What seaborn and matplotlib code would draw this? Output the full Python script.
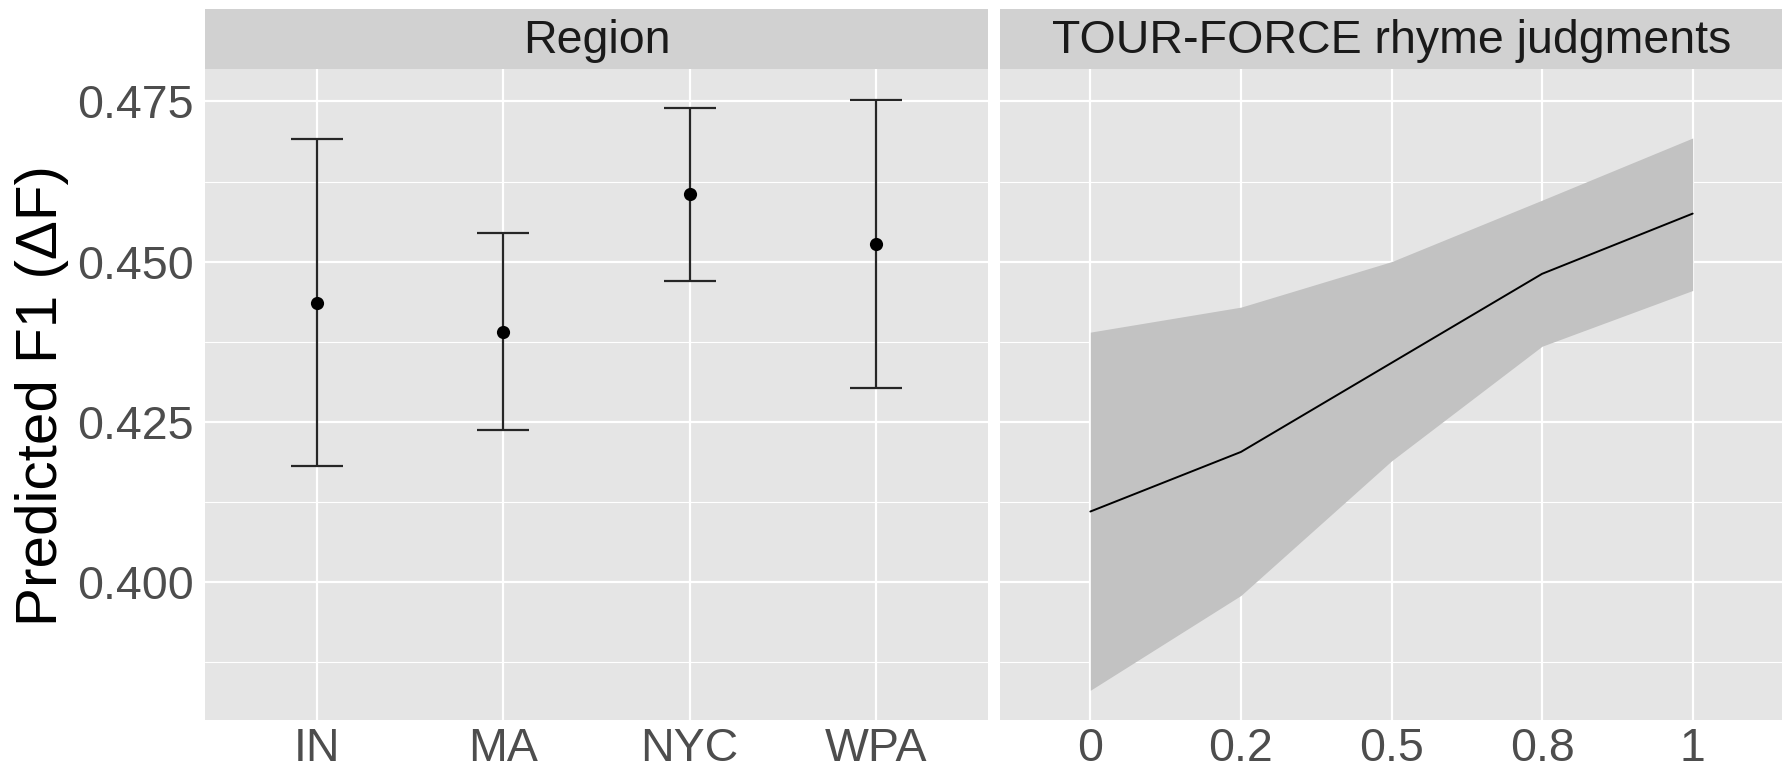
import matplotlib
matplotlib.use("Agg")
import matplotlib.pyplot as plt
import seaborn as sns
import numpy as np
import pandas as pd

# ---- data ----
regions = ["IN", "MA", "NYC", "WPA"]
region_fit = [0.4436, 0.4390, 0.4605, 0.4528]
region_lo = [0.4181, 0.4237, 0.4470, 0.4303]
region_hi = [0.4691, 0.4544, 0.4740, 0.4753]

tf_labels = ["0", "0.2", "0.5", "0.8", "1"]
tf_fit = [0.4110, 0.4203, 0.4342, 0.4481, 0.4575]
tf_lo = [0.3831, 0.3979, 0.4189, 0.4368, 0.4455]
tf_hi = [0.4390, 0.4429, 0.4500, 0.4596, 0.4693]

y_ticks = [0.400, 0.425, 0.450, 0.475]
y_label = "Predicted F1 (ΔF)"
strip_titles = ["Region", "TOUR-FORCE rhyme judgments"]

# ---- style ----
sns.set_theme(style="darkgrid")
plt.rcParams["font.family"] = ["Liberation Sans", "DejaVu Sans"]

PANEL_BG = "#E5E5E5"
STRIP_BG = "#D1D1D1"
TICK_COL = "#4D4D4D"
RIBBON = "#C2C2C2"

W, H = 1783, 769
fig = plt.figure(figsize=(W / 100, H / 100), dpi=100)
fig.patch.set_facecolor("white")

def fr(x0, y0, x1, y1):
    return [x0 / W, 1 - y1 / H, (x1 - x0) / W, (y1 - y0) / H]

ax1 = fig.add_axes(fr(205, 69, 988, 720))
ax2 = fig.add_axes(fr(1000, 69, 1783, 720))
s1 = fig.add_axes(fr(205, 9, 988, 69))
s2 = fig.add_axes(fr(1000, 9, 1783, 69))

ylim = (0.37846, 0.48007)

for ax in (ax1, ax2):
    ax.set_facecolor(PANEL_BG)
    for sp in ax.spines.values():
        sp.set_visible(False)
    ax.set_ylim(*ylim)
    ax.yaxis.set_major_locator(plt.FixedLocator(y_ticks))
    ax.yaxis.set_minor_locator(plt.FixedLocator([0.3875, 0.4125, 0.4375, 0.4625]))
    ax.grid(True, which="major", color="white", linewidth=1.6)
    ax.grid(True, which="minor", axis="y", color="white", linewidth=0.8)
    ax.set_axisbelow(True)
    ax.tick_params(axis="both", which="major", length=4.3, width=1.1, color="#333333",
                   labelsize=33.5, labelcolor=TICK_COL, pad=4)
    ax.tick_params(axis="x", which="major", pad=0.8)
    ax.tick_params(axis="both", which="minor", length=0)

# ---- left panel: region estimates ----
xr = np.arange(len(regions))
df_r = pd.DataFrame({"x": xr, "fit": region_fit, "lo": region_lo, "hi": region_hi})
ax1.errorbar(df_r["x"], df_r["fit"],
             yerr=[df_r["fit"] - df_r["lo"], df_r["hi"] - df_r["fit"]],
             fmt="none", ecolor="#262626", elinewidth=1.6, capsize=18.5, capthick=1.6, zorder=3)
sns.scatterplot(data=df_r, x="x", y="fit", ax=ax1, color="black", s=90,
                edgecolor="black", linewidth=0, zorder=4, legend=False)
ax1.set_xlim(-0.6, len(regions) - 0.4)
ax1.set_xticks(xr)
ax1.set_xticklabels(regions)
ax1.set_yticklabels([f"{t:.3f}" for t in y_ticks])
ax1.set_xlabel("")
ax1.set_ylabel("")

# ---- right panel: TOUR-FORCE ----
xt = np.arange(len(tf_labels))
df_t = pd.DataFrame({"x": xt, "fit": tf_fit, "lo": tf_lo, "hi": tf_hi})
ax2.fill_between(df_t["x"], df_t["lo"], df_t["hi"], color=RIBBON, linewidth=0, zorder=2)
sns.lineplot(data=df_t, x="x", y="fit", ax=ax2, color="black", linewidth=1.4, zorder=3)
ax2.set_xlim(-0.6, len(tf_labels) - 0.4)
ax2.set_xticks(xt)
ax2.set_xticklabels(tf_labels)
ax2.tick_params(axis="y", which="both", left=False, labelleft=False)
ax2.set_xlabel("")
ax2.set_ylabel("")

# ---- strips ----
for s, title in zip((s1, s2), strip_titles):
    s.set_facecolor(STRIP_BG)
    s.set_xticks([])
    s.set_yticks([])
    s.grid(False)
    for sp in s.spines.values():
        sp.set_visible(False)
    s.text(0.5, 0.47, title, ha="center", va="center", fontsize=33.5,
           color="#1A1A1A", transform=s.transAxes)

fig.text(42 / W, 1 - 396 / H, y_label, rotation=90, ha="center", va="center",
         fontsize=42, color="black")

fig.savefig("out.png", dpi=100, facecolor="white")
